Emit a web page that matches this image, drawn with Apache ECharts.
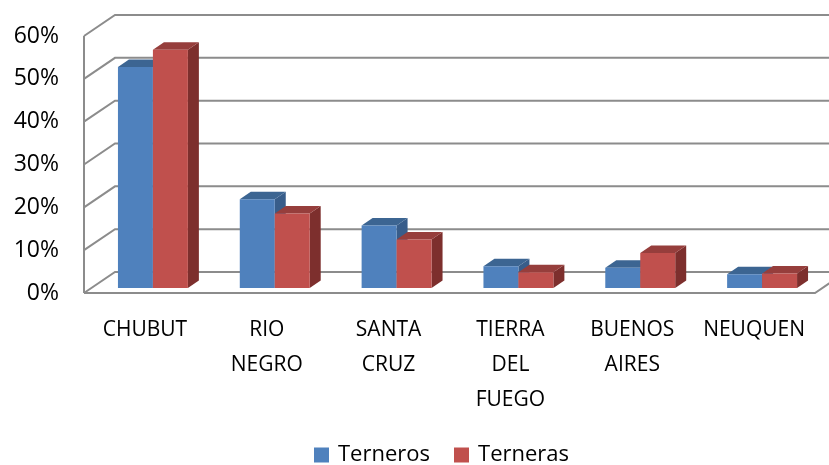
<!DOCTYPE html>
<html><head><meta charset="utf-8">
<script src="https://cdn.jsdelivr.net/npm/echarts@6/dist/echarts.min.js"></script>
<style>html,body{margin:0;padding:0;background:#fff}#c{width:829px;height:465px}</style>
</head><body><div id="c"></div>
<script>
const categories = ['CHUBUT', 'RIO NEGRO', 'SANTA CRUZ', 'TIERRA DEL FUEGO', 'BUENOS AIRES', 'NEUQUEN'];
const terneros = [51.6, 20.7, 14.6, 5.1, 4.7, 3.2];
const terneras = [55.6, 17.4, 11.3, 3.7, 8.2, 3.4];
const yTicks = [0, 10, 20, 30, 40, 50, 60];

const FONT = "'Open Sans', sans-serif";
const WALL_DX = 31, WALL_DY = -21;   // depth of the 3D box
const OFF_DX = 8, OFF_DY = -5;        // bars' front face depth
const BAR_DX = 11, BAR_DY = -7.5;     // bar depth
const GRID_COLOR = '#8c8c8c';

const chart = echarts.init(document.getElementById('c'), null, {renderer: 'canvas'});

function wallRender(params, api) {
  const v = api.value(1);
  const cs = params.coordSys;
  const xL = cs.x, xR = cs.x + cs.width;
  const y = api.coord([0, v])[1];
  const style = {stroke: GRID_COLOR, lineWidth: 2, fill: null};
  const children = [{
    type: 'polyline',
    shape: {points: [[xL, y], [xL + WALL_DX, y + WALL_DY], [xR + WALL_DX + 40, y + WALL_DY]]},
    style: style
  }];
  if (v === 0) {
    children.push({type: 'polyline', shape: {points: [[xL, y], [xR, y], [xR + WALL_DX, y + WALL_DY]]}, style: style});
  }
  if (v === yTicks[yTicks.length - 1]) {
    const y0 = api.coord([0, 0])[1];
    children.push({type: 'line', shape: {x1: xL, y1: y, x2: xL, y2: y0}, style: style});
  }
  return {type: 'group', children: children};
}

function barSeries(name, values, colors, side) {
  return {
    name: name,
    type: 'custom',
    clip: false,
    itemStyle: {color: colors[0]},
    data: values.map((v, i) => [i, v]),
    encode: {x: 0, y: 1},
    z: 3 + side,
    renderItem: function (params, api) {
      const c = api.value(0), v = api.value(1);
      const base = api.coord([c, 0]);
      const top = api.coord([c, v]);
      const band = api.size([1, 0])[0];
      const w = band * 0.287;
      const x0 = base[0] + (side === 0 ? -w : 0) + OFF_DX;
      const yb = base[1] + OFF_DY;
      const yt = top[1] + OFF_DY;
      return {
        type: 'group',
        children: [
          {type: 'polygon', shape: {points: [[x0 + w, yt], [x0 + w + BAR_DX, yt + BAR_DY], [x0 + w + BAR_DX, yb + BAR_DY], [x0 + w, yb]]}, style: {fill: colors[2]}},
          {type: 'polygon', shape: {points: [[x0, yt], [x0 + w, yt], [x0 + w + BAR_DX, yt + BAR_DY], [x0 + BAR_DX, yt + BAR_DY]]}, style: {fill: colors[1]}},
          {type: 'rect', shape: {x: x0, y: yt, width: w, height: yb - yt}, style: {fill: colors[0]}}
        ]
      };
    }
  };
}

chart.setOption({
  animation: false,
  grid: {left: 84, right: 14, top: 36, bottom: 172, containLabel: false},
  legend: {
    data: ['Terneros', 'Terneras'],
    left: 309, top: 439,
    icon: 'rect', itemWidth: 15, itemHeight: 15, itemGap: 24,
    textStyle: {fontFamily: FONT, fontSize: 22, color: '#000', padding: [0, 0, 0, 4]}
  },
  xAxis: {
    type: 'category',
    data: categories,
    axisLine: {show: false}, axisTick: {show: false}, splitLine: {show: false},
    axisLabel: {
      fontFamily: FONT, fontSize: 21, color: '#000', lineHeight: 35, margin: 20,
      interval: 0,
      formatter: v => v.split(' ').join('\n')
    }
  },
  yAxis: {
    type: 'value', min: 0, max: 60, interval: 10,
    axisLine: {show: false}, axisTick: {show: false}, splitLine: {show: false},
    axisLabel: {fontFamily: FONT, fontSize: 23, color: '#000', margin: 25, padding: [8, 0, 0, 0], formatter: '{value}%'}
  },
  series: [
    {
      name: 'walls', type: 'custom', clip: false, z: 1, silent: true,
      data: yTicks.map(v => [0, v]), encode: {x: 0, y: 1},
      renderItem: wallRender
    },
    barSeries('Terneros', terneros, ['#4F81BD', '#3C6592', '#385D8A'], 0),
    barSeries('Terneras', terneras, ['#C0504D', '#963E3C', '#7D2F2D'], 1)
  ]
});
</script></body></html>
